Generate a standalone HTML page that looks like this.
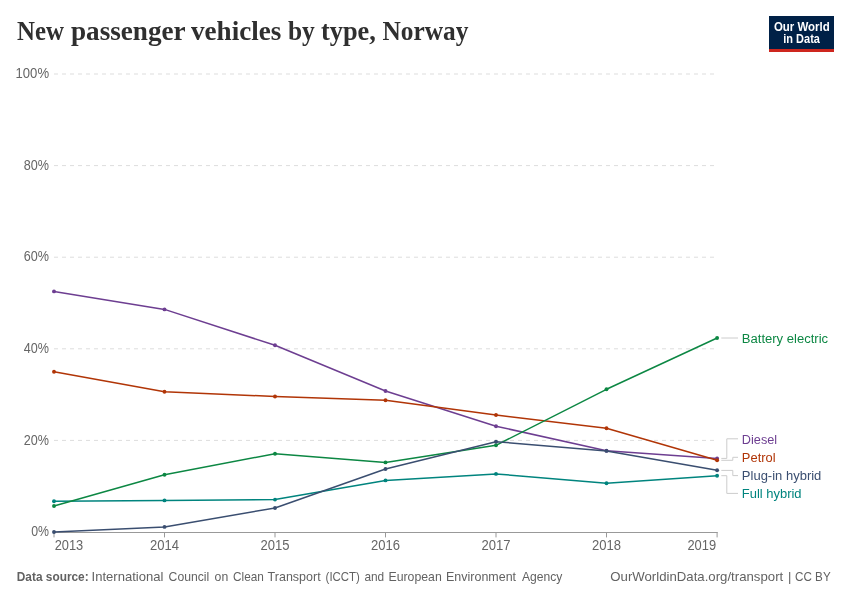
<!DOCTYPE html>
<html><head><meta charset="utf-8">
<title>New passenger vehicles by type, Norway</title>
<style>
html,body{margin:0;padding:0;background:#fff;}
body{width:850px;height:600px;overflow:hidden;position:relative;font-family:"Liberation Sans",sans-serif;}
svg{position:absolute;left:0;top:0;will-change:transform;}
text{font-family:"Liberation Sans",sans-serif;white-space:pre;}
text.t{font-family:"Liberation Serif",serif;}
</style></head><body>
<svg width="850" height="600" viewBox="0 0 850 600">
<rect width="850" height="600" fill="#fff"/>
<!-- logo -->
<rect x="769" y="16" width="65" height="36" fill="#002147"/>
<rect x="769" y="49" width="65" height="3" fill="#ce261e"/>
<!-- gridlines -->
<g stroke="#ddd" stroke-width="1" stroke-dasharray="4,4" fill="none"><line x1="54" x2="717" y1="74.0" y2="74.0"/><line x1="54" x2="717" y1="165.6" y2="165.6"/><line x1="54" x2="717" y1="257.2" y2="257.2"/><line x1="54" x2="717" y1="348.8" y2="348.8"/><line x1="54" x2="717" y1="440.4" y2="440.4"/></g>
<!-- x axis -->
<g stroke="#999" stroke-width="1" fill="none"><line x1="53.5" x2="717.6" y1="532.5" y2="532.5"/><line x1="54" x2="54" y1="532" y2="537.4"/><line x1="164.5" x2="164.5" y1="532" y2="537.4"/><line x1="275" x2="275" y1="532" y2="537.4"/><line x1="385.5" x2="385.5" y1="532" y2="537.4"/><line x1="496" x2="496" y1="532" y2="537.4"/><line x1="606.5" x2="606.5" y1="532" y2="537.4"/><line x1="717.1" x2="717.1" y1="532" y2="537.4"/></g>
<!-- connector lines -->
<g stroke="#ccc" stroke-width="1" fill="none">
<path d="M721.3,338 H738"/>
<path d="M721.3,458.4 H726.8 V438.8 H738"/>
<path d="M721.3,460.3 H732.8 V457.3 H738"/>
<path d="M721.3,470.4 H732.8 V475.6 H738"/>
<path d="M721.3,475.7 H726.8 V493.4 H738"/>
</g>
<!-- series -->
<polyline points="54,501.3 164.5,500.4 275,499.6 385.5,480.4 496,473.9 606.5,483.3 717.1,475.7" fill="none" stroke="#00847e" stroke-width="1.5" stroke-linejoin="round" stroke-linecap="round"/>
<g fill="#00847e"><circle cx="54" cy="501.3" r="1.95"/><circle cx="164.5" cy="500.4" r="1.95"/><circle cx="275" cy="499.6" r="1.95"/><circle cx="385.5" cy="480.4" r="1.95"/><circle cx="496" cy="473.9" r="1.95"/><circle cx="606.5" cy="483.3" r="1.95"/><circle cx="717.1" cy="475.7" r="1.95"/></g>
<polyline points="54,291.4 164.5,309.4 275,345.3 385.5,391.0 496,426.2 606.5,450.8 717.1,458.5" fill="none" stroke="#6d3e91" stroke-width="1.5" stroke-linejoin="round" stroke-linecap="round"/>
<g fill="#6d3e91"><circle cx="54" cy="291.4" r="1.95"/><circle cx="164.5" cy="309.4" r="1.95"/><circle cx="275" cy="345.3" r="1.95"/><circle cx="385.5" cy="391.0" r="1.95"/><circle cx="496" cy="426.2" r="1.95"/><circle cx="606.5" cy="450.8" r="1.95"/><circle cx="717.1" cy="458.5" r="1.95"/></g>
<polyline points="54,371.8 164.5,391.8 275,396.5 385.5,400.2 496,415.0 606.5,428.3 717.1,460.2" fill="none" stroke="#b13507" stroke-width="1.5" stroke-linejoin="round" stroke-linecap="round"/>
<g fill="#b13507"><circle cx="54" cy="371.8" r="1.95"/><circle cx="164.5" cy="391.8" r="1.95"/><circle cx="275" cy="396.5" r="1.95"/><circle cx="385.5" cy="400.2" r="1.95"/><circle cx="496" cy="415.0" r="1.95"/><circle cx="606.5" cy="428.3" r="1.95"/><circle cx="717.1" cy="460.2" r="1.95"/></g>
<polyline points="54,506.0 164.5,474.7 275,453.7 385.5,462.4 496,445.3 606.5,389.3 717.1,338.0" fill="none" stroke="#0c8743" stroke-width="1.5" stroke-linejoin="round" stroke-linecap="round"/>
<g fill="#0c8743"><circle cx="54" cy="506.0" r="1.95"/><circle cx="164.5" cy="474.7" r="1.95"/><circle cx="275" cy="453.7" r="1.95"/><circle cx="385.5" cy="462.4" r="1.95"/><circle cx="496" cy="445.3" r="1.95"/><circle cx="606.5" cy="389.3" r="1.95"/><circle cx="717.1" cy="338.0" r="1.95"/></g>
<polyline points="54,532.0 164.5,526.9 275,508.0 385.5,469.0 496,441.7 606.5,450.9 717.1,470.3" fill="none" stroke="#3a4e70" stroke-width="1.5" stroke-linejoin="round" stroke-linecap="round"/>
<g fill="#3a4e70"><circle cx="54" cy="532.0" r="1.95"/><circle cx="164.5" cy="526.9" r="1.95"/><circle cx="275" cy="508.0" r="1.95"/><circle cx="385.5" cy="469.0" r="1.95"/><circle cx="496" cy="441.7" r="1.95"/><circle cx="606.5" cy="450.9" r="1.95"/><circle cx="717.1" cy="470.3" r="1.95"/></g>
<!-- text -->
<text transform="translate(17.00,40.2) scale(0.9008,1)" font-size="27.6" font-weight="bold" class="t" fill="#2f2f2f">New</text>
<text transform="translate(71.00,40.2) scale(0.9840,1)" font-size="27.6" font-weight="bold" class="t" fill="#2f2f2f">passenger</text>
<text transform="translate(191.00,40.2) scale(0.9825,1)" font-size="27.6" font-weight="bold" class="t" fill="#2f2f2f">vehicles</text>
<text transform="translate(288.00,40.2) scale(0.9200,1)" font-size="27.6" font-weight="bold" class="t" fill="#2f2f2f">by</text>
<text transform="translate(321.00,40.2) scale(0.9544,1)" font-size="27.6" font-weight="bold" class="t" fill="#2f2f2f">type,</text>
<text transform="translate(382.40,40.2) scale(0.9200,1)" font-size="27.6" font-weight="bold" class="t" fill="#2f2f2f">Norway</text>
<text transform="translate(773.90,30.9) scale(0.9251,1)" font-size="12.4" font-weight="bold" fill="#fff">Our World</text>
<text transform="translate(783.30,42.9) scale(0.8861,1)" font-size="12.4" font-weight="bold" fill="#fff">in Data</text>
<text transform="translate(15.56,78.1) scale(0.9422,1)" font-size="13.9" fill="#666">100%</text>
<text transform="translate(23.80,169.7) scale(0.9071,1)" font-size="13.9" fill="#666">80%</text>
<text transform="translate(23.80,261.3) scale(0.9071,1)" font-size="13.9" fill="#666">60%</text>
<text transform="translate(23.80,353.0) scale(0.9071,1)" font-size="13.9" fill="#666">40%</text>
<text transform="translate(23.80,444.6) scale(0.9071,1)" font-size="13.9" fill="#666">20%</text>
<text transform="translate(31.20,536.3) scale(0.8872,1)" font-size="13.9" fill="#666">0%</text>
<text transform="translate(54.70,550.4) scale(0.9238,1)" font-size="13.9" fill="#666">2013</text>
<text transform="translate(149.90,550.4) scale(0.9398,1)" font-size="13.9" fill="#666">2014</text>
<text transform="translate(260.40,550.4) scale(0.9398,1)" font-size="13.9" fill="#666">2015</text>
<text transform="translate(370.90,550.4) scale(0.9398,1)" font-size="13.9" fill="#666">2016</text>
<text transform="translate(481.40,550.4) scale(0.9398,1)" font-size="13.9" fill="#666">2017</text>
<text transform="translate(591.90,550.4) scale(0.9398,1)" font-size="13.9" fill="#666">2018</text>
<text transform="translate(687.40,550.4) scale(0.9270,1)" font-size="13.9" fill="#666">2019</text>
<text transform="translate(741.83,342.8) scale(0.9669,1)" font-size="13.5" fill="#0c8743">Battery electric</text>
<text transform="translate(741.86,443.5) scale(0.9421,1)" font-size="13.5" fill="#6d3e91">Diesel</text>
<text transform="translate(741.84,461.8) scale(0.9572,1)" font-size="13.5" fill="#b13507">Petrol</text>
<text transform="translate(741.84,479.9) scale(0.9638,1)" font-size="13.5" fill="#3a4e70">Plug-in hybrid</text>
<text transform="translate(741.84,498.1) scale(0.9594,1)" font-size="13.5" fill="#00847e">Full hybrid</text>
<text transform="translate(16.80,580.5) scale(0.9130,1)" font-size="13" font-weight="bold" fill="#626262">Data source:</text>
<text transform="translate(91.60,580.5) scale(1.0048,1)" font-size="13" fill="#626262">International</text>
<text transform="translate(168.60,580.5) scale(0.9387,1)" font-size="13" fill="#626262">Council</text>
<text transform="translate(214.60,580.5) scale(0.9417,1)" font-size="13" fill="#626262">on</text>
<text transform="translate(233.00,580.5) scale(0.9070,1)" font-size="13" fill="#626262">Clean</text>
<text transform="translate(267.60,580.5) scale(0.9615,1)" font-size="13" fill="#626262">Transport</text>
<text transform="translate(325.60,580.5) scale(0.8795,1)" font-size="13" fill="#626262">(ICCT)</text>
<text transform="translate(364.40,580.5) scale(0.9133,1)" font-size="13" fill="#626262">and</text>
<text transform="translate(388.45,580.5) scale(0.9465,1)" font-size="13" fill="#626262">European</text>
<text transform="translate(446.04,580.5) scale(0.9604,1)" font-size="13" fill="#626262">Environment</text>
<text transform="translate(521.90,580.5) scale(0.9325,1)" font-size="13" fill="#626262">Agency</text>
<text transform="translate(610.30,580.5) scale(1.0166,1)" font-size="13" fill="#626262">OurWorldinData.org/transport</text>
<text transform="translate(788.00,580.5) scale(1.0000,1)" font-size="13" fill="#626262">|</text>
<text transform="translate(795.00,580.5) scale(0.8987,1)" font-size="13" fill="#626262">CC BY</text>
</svg>
</body></html>
